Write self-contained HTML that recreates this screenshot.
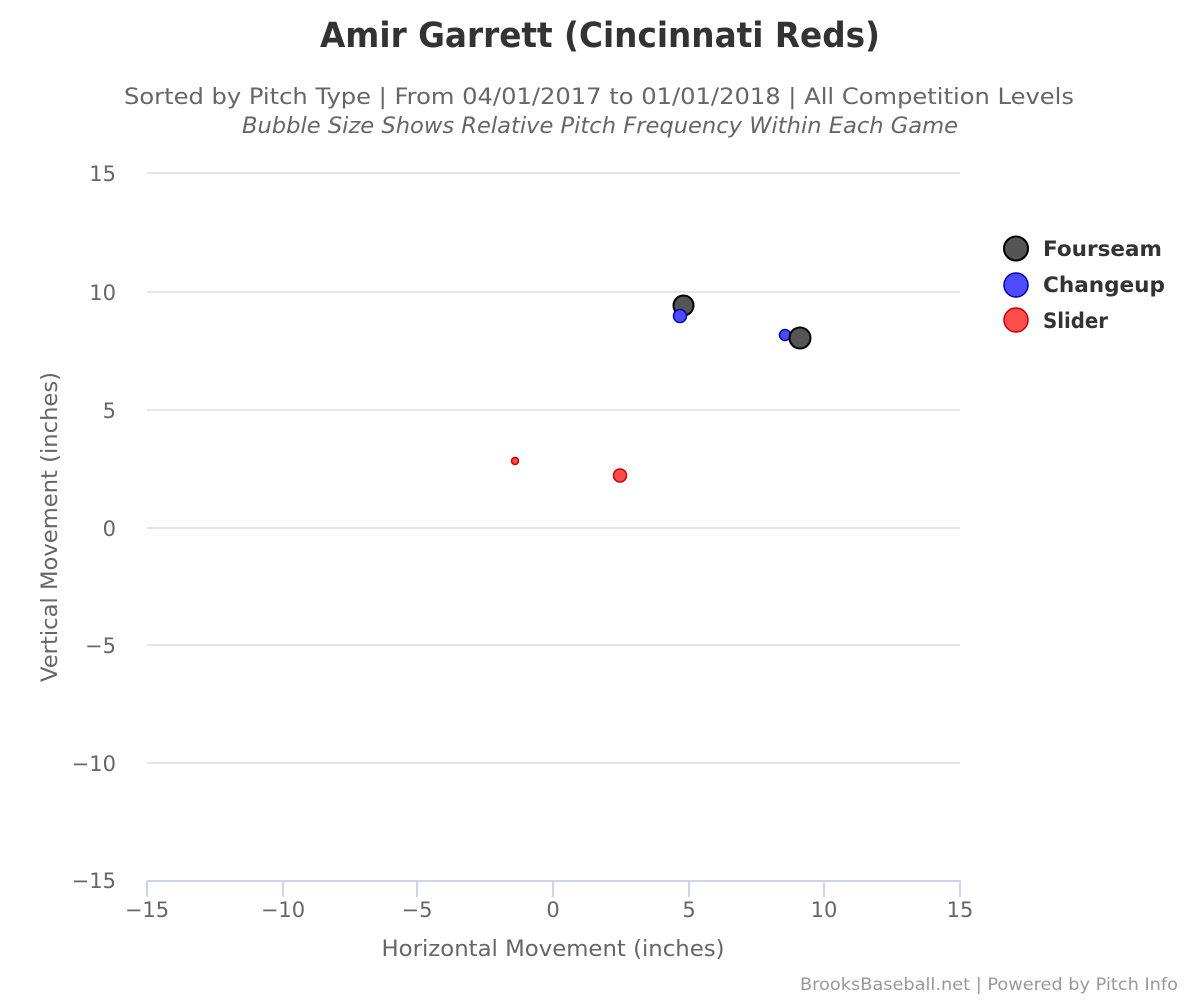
<!DOCTYPE html>
<html>
<head>
<meta charset="utf-8">
<style>
  html, body { margin: 0; padding: 0; background: #fff; }
  svg { display: block; }
  text { font-family: "DejaVu Sans", "Liberation Sans", sans-serif; }
</style>
</head>
<body>
<svg width="1200" height="1000" viewBox="0 0 1200 1000" xmlns="http://www.w3.org/2000/svg">
  <rect x="0" y="0" width="1200" height="1000" fill="#ffffff"/>

  <!-- Title -->
  <text x="600" y="47" text-anchor="middle" font-size="35" font-weight="bold" fill="#333333" textLength="560" lengthAdjust="spacingAndGlyphs">Amir Garrett (Cincinnati Reds)</text>
  <text x="599" y="104" text-anchor="middle" font-size="22" fill="#666666" textLength="950" lengthAdjust="spacingAndGlyphs">Sorted by Pitch Type | From 04/01/2017 to 01/01/2018 | All Competition Levels</text>
  <text x="600" y="133" text-anchor="middle" font-size="22" font-style="italic" fill="#666666" textLength="716" lengthAdjust="spacingAndGlyphs">Bubble Size Shows Relative Pitch Frequency Within Each Game</text>

  <!-- Grid lines -->
  <g stroke="#e6e6e6" stroke-width="2">
    <line x1="147" y1="173" x2="960" y2="173"/>
    <line x1="147" y1="292" x2="960" y2="292"/>
    <line x1="147" y1="410" x2="960" y2="410"/>
    <line x1="147" y1="528" x2="960" y2="528"/>
    <line x1="147" y1="645" x2="960" y2="645"/>
    <line x1="147" y1="763" x2="960" y2="763"/>
  </g>

  <!-- X axis -->
  <g stroke="#ccd6eb" stroke-width="2">
    <line x1="147" y1="881" x2="961" y2="881"/>
    <line x1="147" y1="881" x2="147" y2="897"/>
    <line x1="283" y1="881" x2="283" y2="897"/>
    <line x1="417" y1="881" x2="417" y2="897"/>
    <line x1="553" y1="881" x2="553" y2="897"/>
    <line x1="689" y1="881" x2="689" y2="897"/>
    <line x1="824" y1="881" x2="824" y2="897"/>
    <line x1="960" y1="881" x2="960" y2="897"/>
  </g>

  <!-- Y axis labels -->
  <g font-size="21" fill="#666666" text-anchor="end">
    <text x="116" y="181">15</text>
    <text x="116" y="300">10</text>
    <text x="116" y="418">5</text>
    <text x="116" y="536">0</text>
    <text x="116" y="653">−5</text>
    <text x="116" y="771">−10</text>
    <text x="116" y="888">−15</text>
  </g>

  <!-- X axis labels -->
  <g font-size="21" fill="#666666" text-anchor="middle">
    <text x="147" y="917">−15</text>
    <text x="283" y="917">−10</text>
    <text x="417" y="917">−5</text>
    <text x="553" y="917">0</text>
    <text x="689" y="917">5</text>
    <text x="824" y="917">10</text>
    <text x="960" y="917">15</text>
  </g>

  <!-- Axis titles -->
  <text x="553" y="956" text-anchor="middle" font-size="22" fill="#666666" textLength="343" lengthAdjust="spacingAndGlyphs">Horizontal Movement (inches)</text>
  <text transform="translate(57,527) rotate(-90)" x="0" y="0" text-anchor="middle" font-size="22" fill="#666666" textLength="310" lengthAdjust="spacingAndGlyphs">Vertical Movement (inches)</text>

  <!-- Data points -->
  <circle cx="515" cy="461" r="3.5" fill="#ff4d4d" stroke="#c40000" stroke-width="1.5"/>
  <circle cx="620" cy="475.5" r="6.5" fill="#ff4d4d" stroke="#c40000" stroke-width="1.5"/>
  <circle cx="785" cy="335" r="5.5" fill="#4d4dff" stroke="#0000b0" stroke-width="1.5"/>
  <circle cx="800" cy="338" r="10.5" fill="#555555" stroke="#000000" stroke-width="2"/>
  <circle cx="683.5" cy="305.5" r="10" fill="#555555" stroke="#000000" stroke-width="2"/>
  <circle cx="680" cy="316" r="6.5" fill="#4d4dff" stroke="#0000b0" stroke-width="1.5"/>

  <!-- Legend -->
  <circle cx="1016" cy="248.5" r="12" fill="#555555" stroke="#000000" stroke-width="2"/>
  <circle cx="1016" cy="285" r="12" fill="#4d4dff" stroke="#0000b0" stroke-width="1.5"/>
  <circle cx="1016" cy="320" r="12" fill="#ff4d4d" stroke="#c40000" stroke-width="1.5"/>
  <g font-size="21" font-weight="bold" fill="#333333">
    <text x="1043" y="256" textLength="119" lengthAdjust="spacingAndGlyphs">Fourseam</text>
    <text x="1043" y="292" textLength="122" lengthAdjust="spacingAndGlyphs">Changeup</text>
    <text x="1043" y="328" textLength="65" lengthAdjust="spacingAndGlyphs">Slider</text>
  </g>

  <!-- Credits -->
  <text x="1178" y="990" text-anchor="end" font-size="17" fill="#999999" textLength="378" lengthAdjust="spacingAndGlyphs">BrooksBaseball.net | Powered by Pitch Info</text>
</svg>
</body>
</html>
